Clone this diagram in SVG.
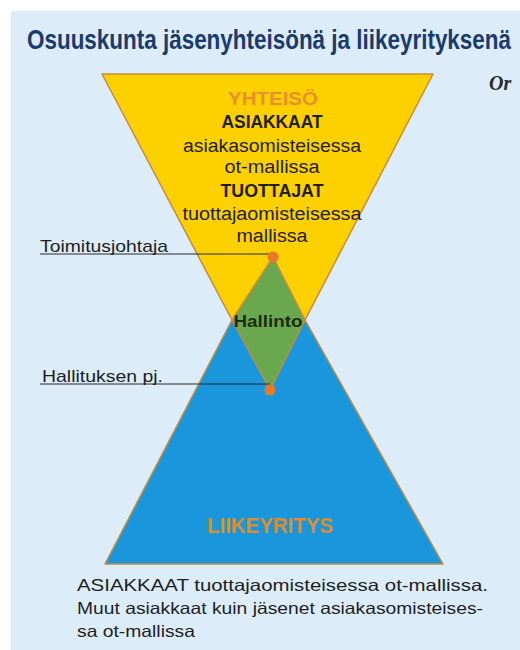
<svg xmlns="http://www.w3.org/2000/svg" width="520" height="650" viewBox="0 0 520 650">
<style>
.t{font-family:"Liberation Sans",Arial,sans-serif;}
.b{font-weight:bold;}
.dark{fill:#1e1e1e;}
.edge{stroke:#c98a3a;stroke-width:1.5;stroke-linejoin:round;}
.dot{fill:#e8792a;}
.lead{stroke:#2a2a2a;stroke-width:1.2;fill:none;}
</style>
<rect x="0" y="0" width="520" height="650" fill="#ffffff"/>
<rect x="11" y="11" width="509" height="639" fill="#dcedf9"/>
<text class="t b" transform="translate(27,49) scale(1,1.227)" x="0" y="0" font-size="22" fill="#1b3a6e" textLength="484" lengthAdjust="spacingAndGlyphs">Osuuskunta jäsenyhteisönä ja liikeyrityksenä</text>
<text x="489" y="90" font-family="'Liberation Serif',serif" font-style="italic" font-weight="bold" font-size="20" fill="#2a2a2a">Or</text>

<g id="liikeyritys">
<polygon class="edge" points="232,320 305,320 443,564 105,564" fill="#1a97dc"/>
<text class="t b" x="270" y="533" font-size="22" fill="#e08a2c" text-anchor="middle" textLength="126" lengthAdjust="spacingAndGlyphs">LIIKEYRITYS</text>
</g>

<g id="yhteiso">
<polygon class="edge" points="102,74 433,74 305,320 232,320" fill="#fdd000"/>
<text class="t b" x="273" y="105" font-size="19" fill="#e8902a" text-anchor="middle" textLength="90" lengthAdjust="spacingAndGlyphs">YHTEISÖ</text>
<text class="t b dark" x="272" y="128" font-size="18" text-anchor="middle" textLength="101" lengthAdjust="spacingAndGlyphs">ASIAKKAAT</text>
<text class="t dark" x="272" y="152" font-size="18" text-anchor="middle" textLength="178" lengthAdjust="spacingAndGlyphs">asiakasomisteisessa</text>
<text class="t dark" x="272" y="173" font-size="18" text-anchor="middle" textLength="95" lengthAdjust="spacingAndGlyphs">ot-mallissa</text>
<text class="t b dark" x="272" y="197" font-size="18" text-anchor="middle" textLength="103" lengthAdjust="spacingAndGlyphs">TUOTTAJAT</text>
<text class="t dark" x="272" y="220" font-size="18" text-anchor="middle" textLength="179" lengthAdjust="spacingAndGlyphs">tuottajaomisteisessa</text>
<text class="t dark" x="272" y="242" font-size="18" text-anchor="middle" textLength="71" lengthAdjust="spacingAndGlyphs">mallissa</text>
</g>

<g id="hallinto">
<polygon class="edge" points="273,257 305,320 270,390 232,320" fill="#6aa84f"/>
<text class="t b" x="268" y="327" font-size="17" fill="#1c2a12" text-anchor="middle" textLength="69" lengthAdjust="spacingAndGlyphs">Hallinto</text>
</g>

<g id="connectors">
<line class="lead" x1="40" y1="254" x2="273" y2="254"/>
<line class="lead" x1="40" y1="384" x2="270" y2="384"/>
</g>

<g id="toimitusjohtaja">
<circle class="dot" cx="273" cy="257" r="5.5"/>
<text class="t dark" x="40" y="252" font-size="17" textLength="128" lengthAdjust="spacingAndGlyphs">Toimitusjohtaja</text>
</g>

<g id="hallituksen-pj">
<circle class="dot" cx="270" cy="390" r="5.5"/>
<text class="t dark" x="42" y="382" font-size="17" textLength="121" lengthAdjust="spacingAndGlyphs">Hallituksen pj.</text>
</g>

<g id="caption">
<text class="t dark" x="77" y="591" font-size="16.5" textLength="411" lengthAdjust="spacingAndGlyphs">ASIAKKAAT tuottajaomisteisessa ot-mallissa.</text>
<text class="t dark" x="77" y="614" font-size="16.5" textLength="406" lengthAdjust="spacingAndGlyphs">Muut asiakkaat kuin jäsenet asiakasomisteises-</text>
<text class="t dark" x="77" y="637" font-size="16.5" textLength="118" lengthAdjust="spacingAndGlyphs">sa ot-mallissa</text>
</g>
</svg>
